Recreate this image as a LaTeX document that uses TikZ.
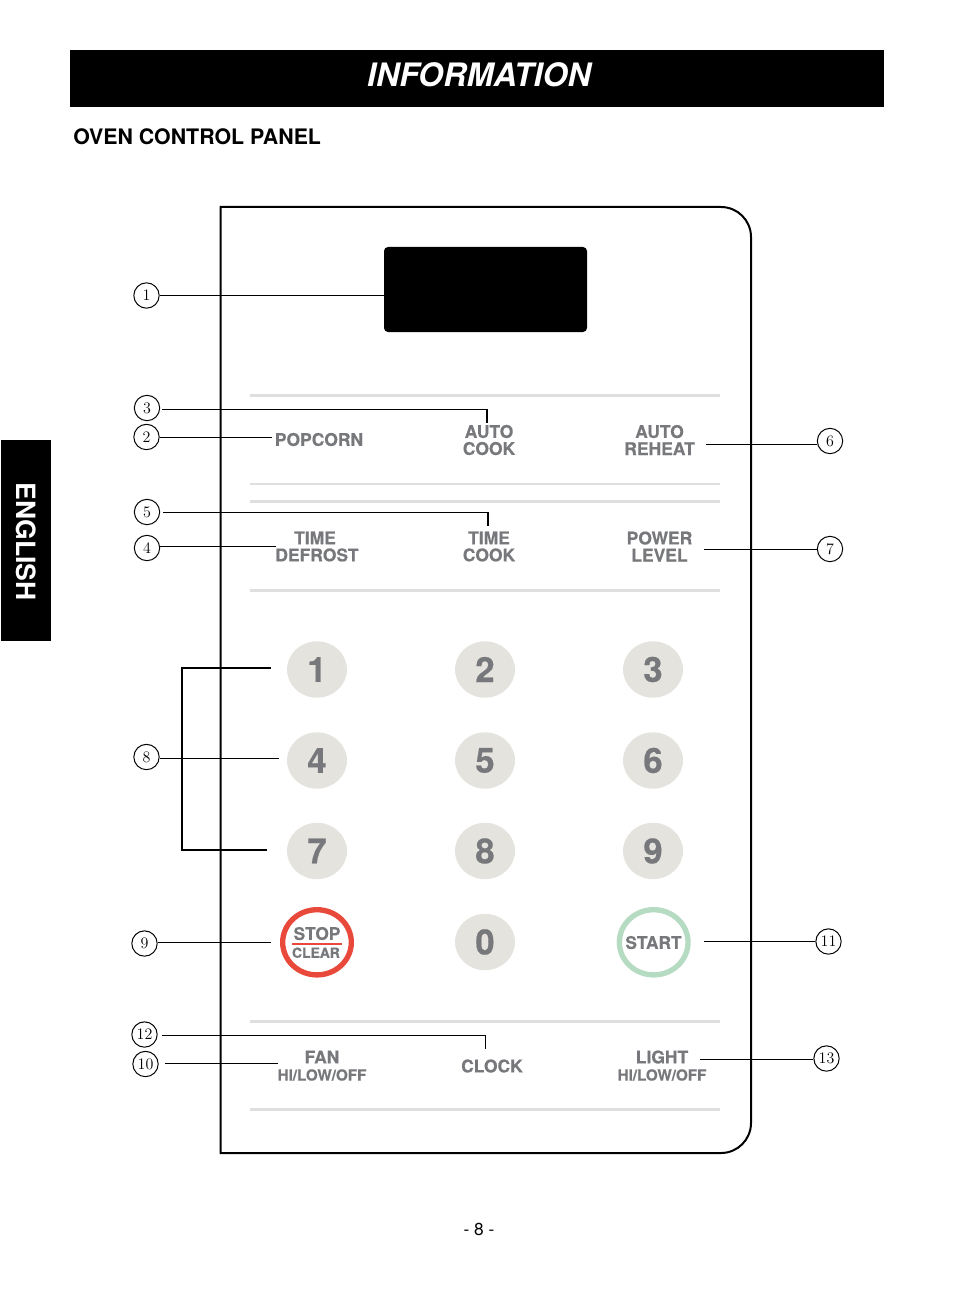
\documentclass[tikz,border=0pt]{standalone}
\usepackage{fontspec}
\setmainfont{TeX Gyre Heros}
\newfontfamily\calloutfont{Latin Modern Roman}
\newfontfamily\heavyfont[FakeBold=0.5]{TeX Gyre Heros Bold}
\usetikzlibrary{shapes.geometric}
\definecolor{keyfill}{HTML}{E4E3DE}
\definecolor{keytext}{HTML}{77787B}
\definecolor{rulegray}{HTML}{DFDFE0}
\definecolor{stopred}{HTML}{E8493A}
\definecolor{startgreen}{HTML}{B5DBC2}
\tikzset{
    callout/.style={draw, circle, line width=0.75pt, minimum size=19pt, inner sep=0pt, font=\calloutfont\fontsize{12}{12}\selectfont},
    leader/.style={line width=0.8pt},
    panelrule/.style={rulegray, line width=2.2pt},
    keylabel/.style={keytext, align=center, font=\heavyfont\fontsize{13.1}{12.8}\selectfont},
    sublabel/.style={keytext, font=\heavyfont\fontsize{11.4}{11}\selectfont},
    numkey/.style={draw=none, fill=keyfill, ellipse, minimum width=45pt, minimum height=42.3pt, inner sep=0pt, text=keytext, font=\heavyfont\fontsize{26}{26}\selectfont},
    ringkey/.style={ellipse, line width=4pt, minimum width=51.5pt, minimum height=48.9pt, inner sep=0pt},
}
\begin{document}
\begin{tikzpicture}[x=0.75pt,y=-0.75pt]
    \useasboundingbox (0,0) rectangle (954,1291);

    % header and side tab
    \node[fill=black, minimum width=610.5pt, minimum height=42.75pt, inner sep=0pt] (banner) at (477,78.5) {};
    \node[text=white, font=\bfseries\itshape\fontsize{24.2}{24.2}\selectfont] (bannertext) at (479,75) {INFORMATION};
    \node[anchor=west, inner sep=0pt, font=\bfseries\fontsize{16}{16}\selectfont] (heading) at (73,137) {OVEN CONTROL PANEL};
    \node[fill=black, minimum width=37.5pt, minimum height=150.75pt, inner sep=0pt] (tab) at (26,540.5) {};
    \node[text=white, rotate=-90, font=\bfseries\fontsize{19.9}{19.9}\selectfont] (tabtext) at (26,541.5) {ENGLISH};
    \node[font=\fontsize{13}{13}\selectfont] (pagenum) at (479,1229) {- 8 -};

    % panel outline and display
    \draw[line width=1.5pt] (220.5,207) -- (721,207) arc [start angle=90,end angle=0,radius=22.5pt] -- (751,1123) arc [start angle=0,end angle=-90,radius=22.5pt] -- (220.5,1153) -- cycle;
    \node[fill=black, rounded corners=3pt, minimum width=152.25pt, minimum height=63.75pt, inner sep=0pt] (display) at (485.5,289.5) {};

    % rules
    \foreach \ruley in {395.5,501.3,590.3,1021.3,1109.3}
        \draw[panelrule] (250,\ruley) -- (720,\ruley);
    \draw[panelrule, line width=1.5pt] (250,484.3) -- (720,484.3);

    % function keys
    \node[keylabel] (popcorn) at (319,439.5) {POPCORN};
    \node[keylabel] (autocook) at (489,440) {AUTO\\COOK};
    \node[keylabel] (autoreheat) at (659.5,440) {AUTO\\REHEAT};
    \node[keylabel] (timedefrost) at (317,546.5) {TIME\hspace*{3pt}\\DEFROST};
    \node[keylabel] (timecook) at (489,546.5) {TIME\\COOK};
    \node[keylabel] (powerlevel) at (659.5,546.5) {POWER\\LEVEL};
    \node[keylabel] (fan) at (322,1057) {FAN};
    \node[sublabel] (fansub) at (322,1075) {HI/LOW/OFF};
    \node[keylabel] (clock) at (492,1066) {CLOCK};
    \node[keylabel] (lightkey) at (662,1057) {LIGHT};
    \node[sublabel] (lightsub) at (662,1075) {HI/LOW/OFF};

    % number keys
    \foreach \keylabel/\keyx/\keyy in {1/317/669.5,2/485/669.5,3/653/669.5,4/317/760.5,5/485/760.5,6/653/760.5,7/317/851,8/485/851,9/653/851,0/485/942}
        \node[numkey] (key\keylabel) at (\keyx,\keyy) {\keylabel};

    % stop and start
    \node[ringkey, draw=stopred] (stopkey) at (317,942.3) {};
    \node[keytext, font=\heavyfont\fontsize{13}{13}\selectfont] (stoptext) at (317,933.5) {STOP};
    \draw[stopred, line width=1.5pt] (292,943.7) -- (342,943.7);
    \node[keytext, font=\heavyfont\fontsize{10.4}{10.4}\selectfont] (cleartext) at (316,952.7) {CLEAR};
    \node[ringkey, draw=startgreen] (startkey) at (653.7,942.3) {};
    \node[keytext, font=\heavyfont\fontsize{13}{13}\selectfont] (starttext) at (653.5,942.5) {START};

    % callouts
    \node[callout] (c1) at (146.5,295.5) {1};
    \node[callout] (c2) at (146.5,437) {2};
    \node[callout] (c3) at (147,408) {3};
    \node[callout] (c4) at (147,548) {4};
    \node[callout] (c5) at (147,512) {5};
    \node[callout] (c6) at (830,441) {6};
    \node[callout] (c7) at (830,549) {7};
    \node[callout] (c8) at (146.5,757) {8};
    \node[callout] (c9) at (144.5,943.5) {9};
    \node[callout] (c10) at (145.5,1064) {10};
    \node[callout] (c11) at (828.5,941.5) {11};
    \node[callout] (c12) at (144.5,1034.5) {12};
    \node[callout] (c13) at (826.5,1058.5) {13};

    \coordinate (e2) at (272,437.3);
    \coordinate (t3) at (487,409.3);
    \coordinate (e3) at (487,423);
    \coordinate (e4) at (276,546.3);
    \coordinate (t5) at (488,512.3);
    \coordinate (e5) at (488,526);
    \coordinate (e6) at (706,444.5);
    \coordinate (e7) at (704,549.5);
    \coordinate (e9) at (271,942.3);
    \coordinate (e10) at (278,1063.3);
    \coordinate (e11) at (704,941.3);
    \coordinate (t12) at (485.5,1035.3);
    \coordinate (e12) at (485.5,1049);
    \coordinate (e13) at (700,1059.3);
    \coordinate (b1) at (271,668);
    \coordinate (b4) at (279,758.5);
    \coordinate (b7) at (267,850);

    \draw[leader] (c1.east) -- (display.west |- c1.east);
    \draw[leader] (c2.east |- e2) -- (e2);
    \draw[leader] ([xshift=1.5]c3.east |- t3) -- (t3) -- (e3);
    \draw[leader] (c4.east |- e4) -- (e4);
    \draw[leader] ([xshift=2]c5.east |- t5) -- (t5) -- (e5);
    \draw[leader] (e6) -- (e6 -| c6.west);
    \draw[leader] (e7) -- (e7 -| c7.west);
    \draw[leader] (c8.east |- b4) -- (b4);
    \draw[leader] (c9.east |- e9) -- (e9);
    \draw[leader] ([xshift=5]c10.east |- e10) -- (e10);
    \draw[leader] (e11) -- (e11 -| c11.west);
    \draw[leader] ([xshift=3]c12.east |- t12) -- (t12) -- (e12);
    \draw[leader] (e13) -- (e13 -| c13.west);
    \draw[leader] (b1) -- (182,668) -- (182,850) -- (b7);
\end{tikzpicture}
\end{document}
